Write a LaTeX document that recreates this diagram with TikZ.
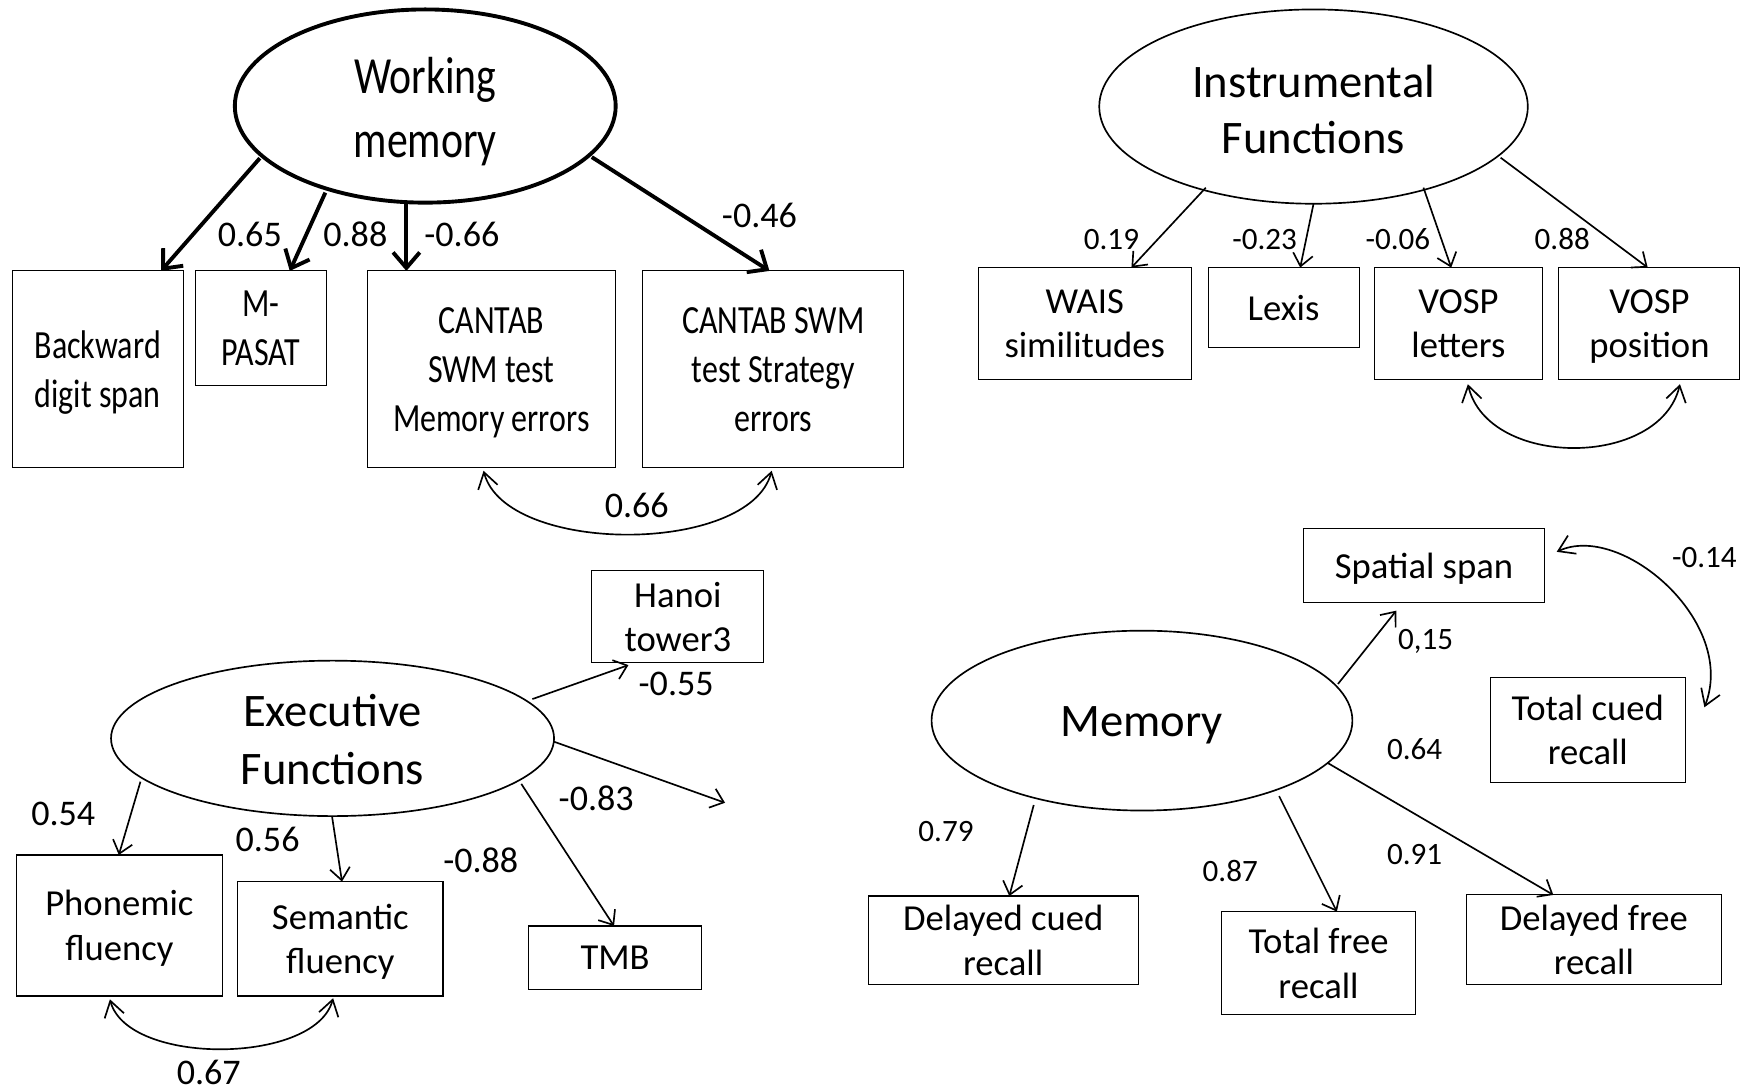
\documentclass[tikz,border=0pt]{standalone}
\usepackage{fontspec}
\setmainfont{Carlito}
\newfontfamily\narrowfont[FakeStretch=0.8]{Carlito}
\usetikzlibrary{arrows.meta,shapes.geometric}

\tikzset{
  box/.style={draw, line width=1pt, inner sep=0pt, outer sep=0pt, align=center,
    text depth=0pt, font=\fontsize{33}{40}\selectfont},
  wmbox/.style={box, font=\narrowfont\fontsize{36}{44}\selectfont},
  latent/.style={draw, ellipse, line width=1.5pt, inner sep=0pt, outer sep=0pt},
  latenttext/.style={align=center, inner sep=0pt, font=\fontsize{42}{51}\selectfont},
  load/.style={line width=1.5pt, -{Straight Barb[length=11pt,width=18pt]}},
  wmload/.style={line width=3.5pt, -{Straight Barb[length=14pt,width=24pt]}},
  cov/.style={line width=1.5pt,
    {Straight Barb[length=14pt,width=18pt]}-{Straight Barb[length=14pt,width=18pt]}},
  coef/.style={inner sep=0pt, font=\fontsize{28}{34}\selectfont},
  bigcoef/.style={inner sep=0pt, font=\fontsize{32.5}{39}\selectfont}
}

\begin{document}
\begin{tikzpicture}[x=1pt, y=-1pt]
\fill[white] (0,0) rectangle (1568,982);
\useasboundingbox (0,0) rectangle (1568,982);

% ---------------- Working memory ----------------
\node[latent, line width=3.5pt, minimum width=343pt, minimum height=174pt] (wm) at (383,95.5) {};
\node[latenttext, font=\narrowfont\fontsize{47}{57}\selectfont] (wmt) at (383,100.5) {Working\\memory};

\node[wmbox, minimum width=154pt, minimum height=177pt] (bds) at (88,332.5) {Backward\\digit span};
\node[wmbox, minimum width=118pt, minimum height=103pt] (mp) at (235,295.5) {M-\\PASAT};
\node[wmbox, minimum width=223pt, minimum height=177pt] (cme) at (442.5,332.5) {CANTAB\\SWM test\\Memory errors};
\node[wmbox, minimum width=235pt, minimum height=177pt] (cse) at (696.5,332.5) {CANTAB SWM\\test Strategy\\errors};

\draw[wmload] ([shift={(-149,47)}]wm.center) -- ([shift={(57,0)}]bds.north);
\draw[wmload] ([shift={(-90,78)}]wm.center) -- ([shift={(26,0)}]mp.north);
\draw[wmload] ([shift={(-17,87)}]wm.center) -- ([shift={(-76.5,0)}]cme.north);
\draw[wmload] ([shift={(150,46)}]wm.center) -- ([shift={(-3.5,0)}]cse.north);

\node[bigcoef] (l1) at (225,211) {0.65};
\node[bigcoef] (l2) at (320,211) {0.88};
\node[bigcoef] (l3) at (416,211) {-0.66};
\node[bigcoef] (l4) at (684,194) {-0.46};

\draw[cov] ([shift={(-7,3)}]cme.south) .. controls +(20,76) and +(-20,76) .. ([shift={(-1.5,3)}]cse.south);
\node[bigcoef] (l5) at (573.5,455) {0.66};

% ---------------- Instrumental functions ----------------
\node[latent, minimum width=386pt, minimum height=175pt] (inf) at (1183,96) {};
\node[latenttext] (inft) at (1183,98.5) {Instrumental\\Functions};

\node[box, minimum width=192pt, minimum height=101pt] (wais) at (977,291.5) {WAIS\\similitudes};
\node[box, minimum width=136pt, minimum height=72pt] (lex) at (1156,277) {Lexis};
\node[box, minimum width=151pt, minimum height=101pt] (vl) at (1313.5,291.5) {VOSP\\letters};
\node[box, minimum width=163pt, minimum height=101pt] (vp) at (1485.5,291.5) {VOSP\\position};

\draw[load] ([shift={(-97,73)}]inf.center) -- ([shift={(42,0)}]wais.north);
\draw[load] ([shift={(0,87.5)}]inf.center) -- ([shift={(15,0)}]lex.north);
\draw[load] ([shift={(99,73)}]inf.center) -- ([shift={(-6.5,0)}]vl.north);
\draw[load] ([shift={(168.5,46)}]inf.center) -- ([shift={(-1.5,0)}]vp.north);

\node[coef] (i1) at (1001,216) {0.19};
\node[coef] (i2) at (1139,216) {-0.23};
\node[coef] (i3) at (1259,215) {-0.06};
\node[coef] (i4) at (1407,215) {0.88};

\draw[cov] ([shift={(8.5,4)}]vl.south) .. controls +(18,76) and +(-18,76) .. ([shift={(27.5,4)}]vp.south);

% ---------------- Executive functions ----------------
\node[latent, minimum width=399pt, minimum height=140pt] (ef) at (299.5,665) {};
\node[latenttext, font=\fontsize{42}{52}\selectfont] (eft) at (299.5,666) {Executive\\Functions};

\node[box, minimum width=155pt, minimum height=83pt] (han) at (610.5,555.5) {Hanoi\\tower3};
\node[box, minimum width=185pt, minimum height=127pt] (ph) at (107.5,833.5) {Phonemic\\fluency};
\node[box, minimum width=185pt, minimum height=103pt] (se) at (306.5,845.5) {Semantic\\fluency};
\node[box, minimum width=156pt, minimum height=57pt] (tmb) at (554,862.5) {TMB};
\coordinate (efend) at (653,723);

\draw[load] ([shift={(-173,39)}]ef.center) -- ([shift={(-0.5,0)}]ph.north);
\draw[load] ([shift={(-0.5,70)}]ef.center) -- ([shift={(1.5,0)}]se.north);
\draw[load] ([shift={(170,41)}]ef.center) -- ([shift={(-1,0)}]tmb.north);
\draw[load] ([shift={(180,-35.4)}]ef.center) -- ([shift={(-44.5,2)}]han.south);
\draw[load] ([shift={(199.5,3)}]ef.center) -- (efend);

\node[bigcoef] (e1) at (57,733) {0.54};
\node[bigcoef] (e2) at (241,756) {0.56};
\node[bigcoef] (e3) at (433,775) {-0.88};
\node[bigcoef] (e4) at (537,719) {-0.83};
\node[bigcoef] (e5) at (609,616) {-0.55};

\draw[cov] ([shift={(-8.5,3)}]ph.south) .. controls +(16,60) and +(-16,60) .. ([shift={(-6.5,2)}]se.south);
\node[bigcoef] (e6) at (188,965.5) {0.67};

% ---------------- Memory ----------------
\node[latent, minimum width=379pt, minimum height=162pt] (mem) at (1028.5,649) {};
\node[latenttext] (memt) at (1028,653.5) {Memory};

\node[box, minimum width=217pt, minimum height=67pt] (ss) at (1282.5,509.5) {Spatial span};
\node[box, minimum width=176pt, minimum height=95pt] (tcr) at (1430,657.5) {Total cued\\recall};
\node[box, minimum width=243pt, minimum height=80pt] (dcr) at (903.5,847) {Delayed cued\\recall};
\node[box, minimum width=175pt, minimum height=93pt] (tfr) at (1187.5,867.5) {Total free\\recall};
\node[box, minimum width=230pt, minimum height=81pt] (dfr) at (1435.5,846.5) {Delayed free\\recall};

\draw[load] ([shift={(176.5,-33)}]mem.center) -- ([shift={(-25,7)}]ss.south);
\draw[load] ([shift={(167,38)}]mem.center) -- ([shift={(-36.5,0)}]dfr.north);
\draw[load] ([shift={(123.5,68)}]mem.center) -- ([shift={(16.5,0)}]tfr.north);
\draw[load] ([shift={(-97.5,76)}]mem.center) -- ([shift={(5.5,0)}]dcr.north);

\node[coef] (m1) at (1284,578) {0,15};
\node[coef] (m2) at (1274,675) {0.64};
\node[coef] (m3) at (852,749) {0.79};
\node[coef] (m4) at (1108,784) {0.87};
\node[coef] (m5) at (1274,770) {0.91};

\draw[cov] ([shift={(11,-12.5)}]ss.east) .. controls +(58,-27) and +(30,-77) .. ([shift={(17,-20.5)}]tcr.east);
\node[coef] (m6) at (1535,502) {-0.14};
\end{tikzpicture}
\end{document}
